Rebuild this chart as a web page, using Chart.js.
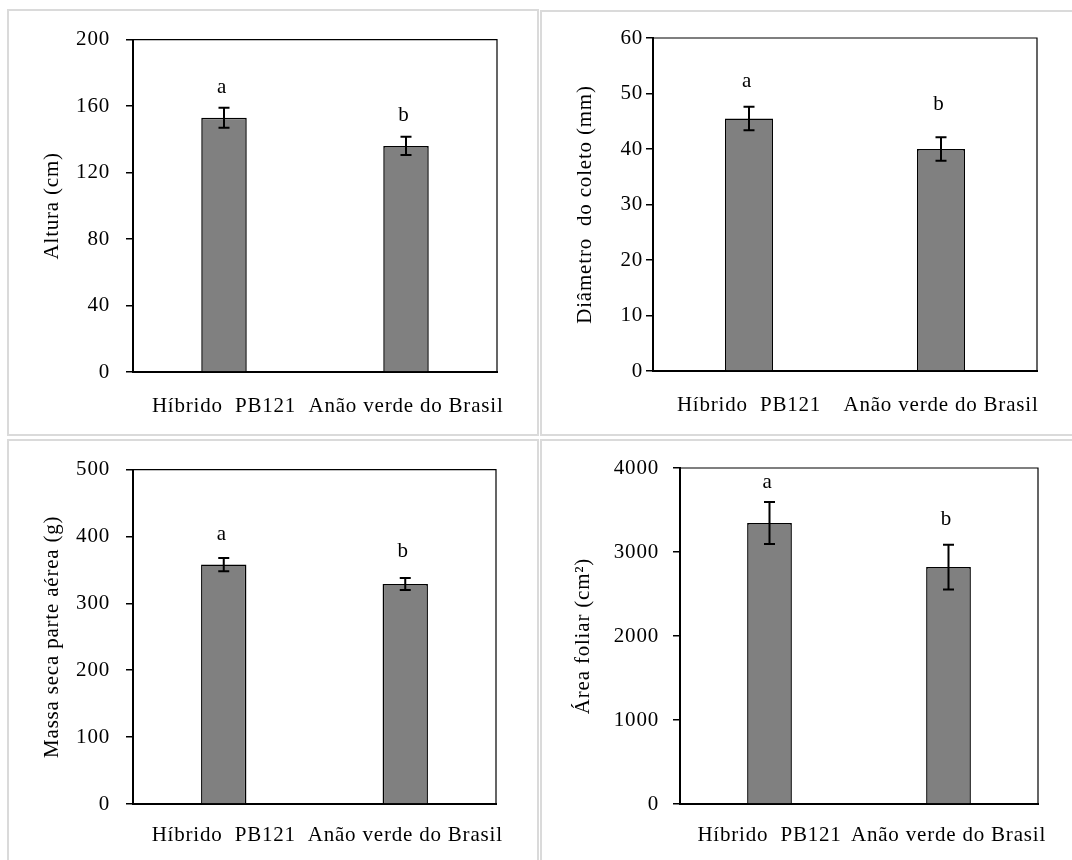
<!DOCTYPE html>
<html lang="pt">
<head>
<meta charset="UTF-8">
<title>Híbrido PB121 x Anão verde do Brasil</title>
<script src="https://cdn.jsdelivr.net/npm/chart.js@4.4.1/dist/chart.umd.min.js"></script>
<style>
    body {
        margin: 0;
        width: 1072px;
        height: 860px;
        overflow: hidden;
        background: #fff;
        position: relative;
    }
    .panel {
        position: absolute;
        border: 2px solid #dadada;
        box-sizing: border-box;
    }
    canvas {
        position: absolute;
    }
</style>
</head>
<body>
<div class="panel" style="left:7px;top:9px;width:532px;height:427px"></div>
<div class="panel" style="left:540px;top:10px;width:545px;height:426px"></div>
<div class="panel" style="left:7px;top:439px;width:532px;height:440px"></div>
<div class="panel" style="left:540px;top:439px;width:545px;height:440px"></div>

<canvas id="c1" width="528" height="422" style="left:9px;top:11px"></canvas>
<canvas id="c2" width="560" height="422" style="left:543px;top:11px"></canvas>
<canvas id="c3" width="528" height="419" style="left:9px;top:441px"></canvas>
<canvas id="c4" width="560" height="419" style="left:543px;top:441px"></canvas>

<script>
// data
const categories = ['Híbrido  PB121', 'Anão verde do Brasil'];
const letters = ['a', 'b'];

const alturaValues = [153, 136];
const alturaErr = [6, 5.5];
const alturaLetterY = [168, 151];
const alturaTicks = [0, 40, 80, 120, 160, 200];

const diametroValues = [45.5, 40];
const diametroErr = [2.1, 2.1];
const diametroLetterY = [51.2, 47];
const diametroTicks = [0, 10, 20, 30, 40, 50, 60];

const massaValues = [358, 329];
const massaErr = [10, 9];
const massaLetterY = [394, 370];
const massaTicks = [0, 100, 200, 300, 400, 500];

const areaValues = [3345, 2820];
const areaErr = [250, 265];
const areaLetterY = [3762, 3321];
const areaTicks = [0, 1000, 2000, 3000, 4000];

const FONT = "'Liberation Serif', 'Times New Roman', serif";
const SIZE = 21;
const SPACING = '0.8px';

// the original text is a bit wider than plain Times, so open it up slightly
const spacingPlugin = {
    id: 'spacing',
    beforeUpdate(chart) { chart.ctx.letterSpacing = SPACING; },
    beforeDraw(chart) { chart.ctx.letterSpacing = SPACING; }
};

// error bars, significance letters and the thin top/right frame
const marksPlugin = {
    id: 'marks',
    afterDatasetsDraw(chart, args, opts) {
        const ctx = chart.ctx;
        const y = chart.scales.y;
        const area = chart.chartArea;
        const values = chart.data.datasets[0].data;
        ctx.save();
        ctx.strokeStyle = '#000';
        ctx.fillStyle = '#000';
        ctx.lineWidth = 2;
        ctx.font = SIZE + 'px ' + FONT;
        ctx.textAlign = 'center';
        ctx.textBaseline = 'alphabetic';
        chart.getDatasetMeta(0).data.forEach((bar, i) => {
            const hi = y.getPixelForValue(values[i] + opts.err[i]);
            const lo = y.getPixelForValue(values[i] - opts.err[i]);
            ctx.beginPath();
            ctx.moveTo(bar.x, hi); ctx.lineTo(bar.x, lo);
            ctx.moveTo(bar.x - 5.5, hi); ctx.lineTo(bar.x + 5.5, hi);
            ctx.moveTo(bar.x - 5.5, lo); ctx.lineTo(bar.x + 5.5, lo);
            ctx.stroke();
            ctx.fillText(letters[i], bar.x - 2, y.getPixelForValue(opts.letterY[i]));
        });
        ctx.lineWidth = 1.2;
        ctx.beginPath();
        ctx.moveTo(area.left, area.top);
        ctx.lineTo(area.right, area.top);
        ctx.lineTo(area.right, area.bottom);
        ctx.stroke();
        ctx.restore();
    }
};

function makeChart(id, values, err, letterY, ticks, title, lay) {
    return new Chart(document.getElementById(id), {
        type: 'bar',
        data: {
            labels: categories,
            datasets: [{
                data: values,
                backgroundColor: '#808080',
                borderColor: '#000',
                borderWidth: 1.5,
                categoryPercentage: 1,
                barPercentage: 0.25
            }]
        },
        options: {
            responsive: false,
            animation: false,
            devicePixelRatio: 1,
            layout: {
                padding: { left: lay.left, top: lay.top, right: lay.right, bottom: 0 }
            },
            plugins: {
                legend: { display: false },
                tooltip: { enabled: false },
                marks: { err: err, letterY: letterY }
            },
            scales: {
                x: {
                    grid: { display: false },
                    border: { display: true, color: '#000', width: 2 },
                    ticks: {
                        color: '#000',
                        padding: lay.xPad,
                        autoSkip: false,
                        maxRotation: 0,
                        minRotation: 0,
                        font: { family: FONT, size: SIZE }
                    },
                    afterFit(scale) { scale.height = lay.xh; }
                },
                y: {
                    min: ticks[0],
                    max: ticks[ticks.length - 1],
                    afterBuildTicks(scale) { scale.ticks = ticks.map(v => ({ value: v })); },
                    grid: {
                        drawOnChartArea: false,
                        drawTicks: true,
                        tickLength: 7,
                        color: '#000',
                        lineWidth: 1.5
                    },
                    border: { display: true, color: '#000', width: 2 },
                    ticks: {
                        color: '#000',
                        padding: lay.tickPad,
                        font: { family: FONT, size: SIZE },
                        callback: v => String(v)
                    },
                    title: {
                        display: true,
                        text: title,
                        color: '#000',
                        padding: 0,
                        font: { family: FONT, size: SIZE, lineHeight: 1.2 }
                    },
                    afterFit(scale) { scale.width = lay.yw; }
                }
            }
        },
        plugins: [spacingPlugin, marksPlugin]
    });
}

makeChart('c1', alturaValues, alturaErr, alturaLetterY, alturaTicks, 'Altura (cm)',
    { left: 31, yw: 93, top: 27, right: 40, xh: 61, tickPad: 16, xPad: 14 });
makeChart('c2', diametroValues, diametroErr, diametroLetterY, diametroTicks, 'Diâmetro  do coleto (mm)',
    { left: 30, yw: 80, top: 27, right: 66, xh: 62, tickPad: 3, xPad: 14 });
makeChart('c3', massaValues, massaErr, massaLetterY, massaTicks, 'Massa seca parte aérea (g)',
    { left: 31, yw: 93, top: 27, right: 41, xh: 56, tickPad: 16, xPad: 11 });
makeChart('c4', areaValues, areaErr, areaLetterY, areaTicks, 'Área foliar (cm²)',
    { left: 28, yw: 109, top: 27, right: 65, xh: 56, tickPad: 14, xPad: 11 });
</script>
</body>
</html>
